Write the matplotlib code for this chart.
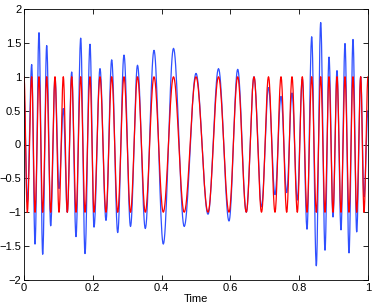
import numpy as np
import matplotlib
matplotlib.use("Agg")
import matplotlib.pyplot as plt

# extrema: pixel x of each turn (axes run 24..368 px)
turn_px = [24, 27.3, 31.7, 35, 39, 42.7, 46.7, 50.7, 55, 59, 63.3, 67.3, 71.7, 76,
           80.7, 85, 90, 94, 100, 106, 111.7, 117.7, 124, 130.5, 137.5, 145.3,
           154, 163.3, 173.5, 184.2, 196, 208, 218.5, 229, 237.7, 246.3, 254,
           261.5, 268.5, 275, 281, 286.7, 292, 297.3, 302.3, 307, 311.7, 316.3,
           320.7, 325, 329, 333, 337, 341, 345, 349, 353, 356.7, 360.7, 364, 368]
time_turns = [(p - 24) / 344.0 for p in turn_px]

# red signal: unit-amplitude turns
red_vals = [1 if i % 2 == 0 else -1 for i in range(len(turn_px))]

# blue signal: value at each turn
blue_vals = [0.71, -0.85, 1.18, -1.47, 1.65, -1.62, 1.46, -1.20, 0.98, -0.65,
             0.53, -1.0, 1.07, -1.36, 1.57, -1.61, 1.48, -1.22, 1.12, -1.12,
             1.25, -1.30, 1.32, -1.21, 1.17, -1.24, 1.39, -1.47, 1.42, -1.21,
             1.05, -1.03, 1.12, -1.13, 1.11, -1.0, 1.0, -0.92, 0.84, -0.74,
             0.71, -0.71, 0.76, -0.82, 0.97, -1.25, 1.59, -1.79, 1.80, -1.56,
             1.29, -1.07, 1.09, -1.26, 1.49, -1.60, 1.55, -1.29, 1.0, -0.77, 0.5]


def smooth(tt, vv, n=20):
    # half-cosine segments between consecutive turning points
    xs, ys = [], []
    for i in range(len(tt) - 1):
        s = np.linspace(0, 1, n, endpoint=False)
        xs.append(tt[i] + (tt[i + 1] - tt[i]) * s)
        ys.append(vv[i] + (vv[i + 1] - vv[i]) * (1 - np.cos(np.pi * s)) / 2)
    xs.append([tt[-1]])
    ys.append([vv[-1]])
    return np.concatenate(xs), np.concatenate(ys)


plt.rcParams['font.family'] = ['Liberation Sans', 'DejaVu Sans']

fig = plt.figure(figsize=(3.74, 3.08), dpi=100)
ax = fig.add_axes([24 / 374, 1 - 280 / 308, 344 / 374, 271 / 308])

bx, by = smooth(time_turns, blue_vals)
rx, ry = smooth(time_turns, red_vals)
ax.plot(bx, by, color='#3050ff', lw=0.9)
ax.plot(rx, ry, color='#ff0000', lw=0.9)

ax.set_xlim(0, 1)
ax.set_ylim(-2, 2)
ax.set_xticks([0, 0.2, 0.4, 0.6, 0.8, 1])
ax.set_xticklabels(['0', '0.2', '0.4', '0.6', '0.8', '1'])
ax.set_yticks([-2, -1.5, -1, -0.5, 0, 0.5, 1, 1.5, 2])
ax.set_yticklabels(['\u22122', '\u22121.5', '\u22121', '\u22120.5', '0', '0.5', '1', '1.5', '2'])
ax.tick_params(direction='in', length=3.5, width=0.6, top=True, right=True,
               labelsize=8, pad=2)
for sp in ax.spines.values():
    sp.set_linewidth(0.6)
ax.set_xlabel('Time', fontsize=8, labelpad=1)

fig.savefig('out.png', dpi=100)
